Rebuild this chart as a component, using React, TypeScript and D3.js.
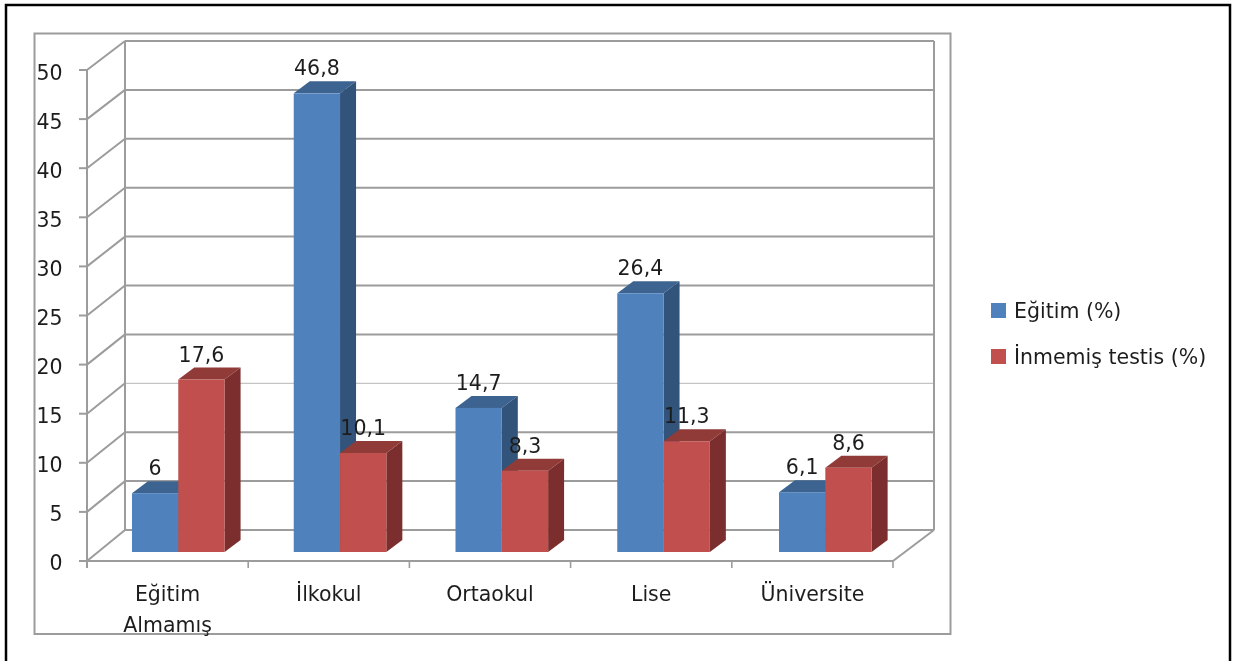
import React from "react";
import * as d3 from "d3";

const categories = ["Eğitim Almamış", "İlkokul", "Ortaokul", "Lise", "Üniversite"];
const categoryLines = [["Eğitim", "Almamış"], ["İlkokul"], ["Ortaokul"], ["Lise"], ["Üniversite"]];
const egitim = [6, 46.8, 14.7, 26.4, 6.1];
const inmemis = [17.6, 10.1, 8.3, 11.3, 8.6];
const egitimLabels = ["6", "46,8", "14,7", "26,4", "6,1"];
const inmemisLabels = ["17,6", "10,1", "8,3", "11,3", "8,6"];
const yTicks = [0, 5, 10, 15, 20, 25, 30, 35, 40, 45, 50];
const legendNames = ["Eğitim (%)", "İnmemiş testis (%)"];

const FONT = "'DejaVu Sans', sans-serif";
const FS = 20.5;
const GRID = "#9c9c9c";
const TEXT = "#1f1f1f";

const series = [
  { values: egitim, labels: egitimLabels, front: "#4f81bd", side: "#30527a", top: "#3c6491" },
  { values: inmemis, labels: inmemisLabels, front: "#c0504d", side: "#7b2f2d", top: "#903b39" },
];

const xFront = d3.scaleBand<string>().domain(categories).range([87, 893]);
const xBar = d3.scaleBand<string>().domain(categories).range([97.4, 906.2]);
const yFront = d3.scaleLinear().domain([0, 50]).range([561, 70]);
const yBack = d3.scaleLinear().domain([0, 50]).range([530, 41]);
const yBar = d3.scaleLinear().domain([0, 50]).range([552, 62]);
const yTickText = d3.scaleLinear().domain([0, 50]).range([569.5, 80]);

const wallDx = 38;
const barDx = 16;
const barDy = 12;
const barW = 46.3;

const poly = (pts: [number, number][]) => d3.line()(pts) + "Z";
const barCenter = (c: string) => (xBar(c) as number) + xBar.bandwidth() / 2;
const catCenter = (c: string) => (xFront(c) as number) + xFront.bandwidth() / 2;

export default function App() {
  const backLeft = 87 + wallDx;
  const backRight = 934;
  const edges = [...xFront.domain().map((c) => xFront(c) as number), 893];
  return (
    <svg
      width={1236}
      height={661}
      style={{ position: "absolute", left: 0, top: 0, background: "#fff" }}
      fontFamily={FONT}
    >
      <defs>
        <filter id="soft" x="-5%" y="-5%" width="110%" height="110%">
          <feGaussianBlur stdDeviation="0.45" />
        </filter>
      </defs>
      <g filter="url(#soft)">
        <path d="M6,661V5H1230V661" fill="none" stroke="#000" strokeWidth={2.5} />
        <rect x={34.5} y={33.5} width={916} height={600.5} fill="none" stroke={GRID} strokeWidth={2} />

        {yTicks.map((t) => (
          <g key={t}>
            <line
              x1={backLeft} x2={backRight} y1={yBack(t)} y2={yBack(t)}
              stroke={t === 15 ? "#c4c4c4" : GRID} strokeWidth={t === 15 ? 1.2 : 2}
            />
            <line x1={87} x2={backLeft} y1={yFront(t)} y2={yBack(t)} stroke={GRID} strokeWidth={2} />
            <line x1={79} x2={87} y1={yFront(t)} y2={yFront(t)} stroke={GRID} strokeWidth={2} />
            <text x={62.5} y={yTickText(t)} textAnchor="end" fontSize={FS} fill={TEXT}>{t}</text>
          </g>
        ))}
        <line x1={backLeft} x2={backLeft} y1={yBack(50)} y2={yBack(0)} stroke={GRID} strokeWidth={2} />
        <line x1={backRight} x2={backRight} y1={yBack(50)} y2={yBack(0)} stroke={GRID} strokeWidth={2} />
        <line x1={87} x2={87} y1={yFront(50)} y2={568} stroke={GRID} strokeWidth={2} />
        <line x1={87} x2={893} y1={yFront(0)} y2={yFront(0)} stroke={GRID} strokeWidth={2} />
        <line x1={893} x2={backRight} y1={yFront(0)} y2={yBack(0)} stroke={GRID} strokeWidth={2} />
        {edges.map((x) => (
          <line key={x} x1={x} x2={x} y1={yFront(0)} y2={568} stroke={GRID} strokeWidth={1.6} />
        ))}

        {categories.map((c, i) =>
          series.map((s, j) => {
            const x0 = barCenter(c) + (j - 1) * barW;
            const x1 = x0 + barW;
            const yT = yBar(s.values[i]);
            const yB = yBar(0);
            return (
              <g key={c + j}>
                <path
                  d={poly([[x0, yT], [x0 + barDx, yT - barDy], [x1 + barDx, yT - barDy], [x1, yT]])}
                  fill={s.top}
                />
                <path
                  d={poly([[x1, yT], [x1 + barDx, yT - barDy], [x1 + barDx, yB - barDy], [x1, yB]])}
                  fill={s.side}
                />
                <rect x={x0} y={yT} width={barW} height={yB - yT} fill={s.front} />
              </g>
            );
          })
        )}

        {categories.map((c, i) =>
          series.map((s, j) => (
            <text
              key={c + j}
              x={barCenter(c) + (j - 0.5) * barW}
              y={yBar(s.values[i]) - 18}
              textAnchor="middle"
              fontSize={FS}
              fill={TEXT}
            >
              {s.labels[i]}
            </text>
          ))
        )}

        {categoryLines.map((lines, i) => (
          <text key={i} textAnchor="middle" fontSize={FS} fill={TEXT}>
            {lines.map((l, k) => (
              <tspan key={l} x={catCenter(categories[i])} y={601 + k * 31}>{l}</tspan>
            ))}
          </text>
        ))}

        {legendNames.map((n, i) => (
          <g key={n}>
            <rect x={991} y={303 + i * 46} width={15} height={15} fill={series[i].front} />
            <text x={1014} y={318 + i * 45.5} fontSize={FS} fill={TEXT}>{n}</text>
          </g>
        ))}
      </g>
    </svg>
  );
}
